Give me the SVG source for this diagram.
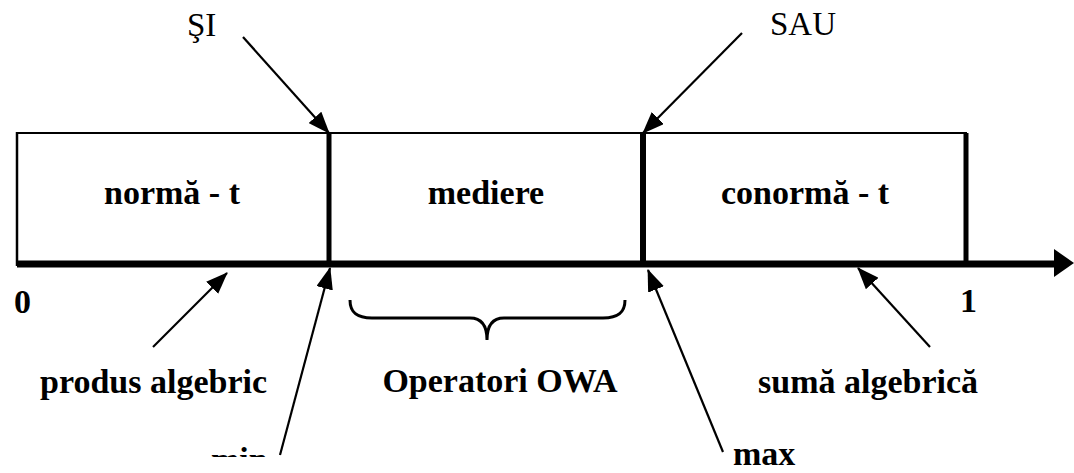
<svg xmlns="http://www.w3.org/2000/svg" width="1074" height="473" viewBox="0 0 1074 473">
  <style>
    .lbl { font-family: "Liberation Serif", "Times New Roman", serif; font-size: 34px; font-weight: bold; fill: #000; }
    .top { font-family: "Liberation Serif", "Times New Roman", serif; font-size: 33px; fill: #000; }
    .ptr { stroke: #000; stroke-width: 2.2; fill: none; marker-end: url(#head); }
    .edge { stroke: #000; fill: none; }
  </style>
  <defs>
    <marker id="head" viewBox="0 0 22 17" refX="21" refY="8.5" markerWidth="22" markerHeight="17" markerUnits="userSpaceOnUse" orient="auto">
      <path d="M0,0 L22,8.5 L0,17 Z" fill="#000"/>
    </marker>
    <clipPath id="cutBottom">
      <rect x="0" y="0" width="1074" height="457"/>
    </clipPath>
  </defs>

  <!-- interval bar [0,1] split into three zones -->
  <g id="bar">
    <line class="edge" x1="17" y1="133" x2="967" y2="133" stroke-width="2"/>
    <line class="edge" x1="17" y1="132" x2="17" y2="266" stroke-width="2.5"/>
    <line class="edge" x1="966" y1="133" x2="966" y2="266" stroke-width="5"/>
  </g>

  <g id="zone-tnorm">
    <text class="lbl" x="172" y="204" text-anchor="middle">normă - t</text>
  </g>
  <g id="zone-mediere">
    <line class="edge" x1="329" y1="133" x2="329" y2="266" stroke-width="5"/>
    <text class="lbl" x="486" y="204" text-anchor="middle">mediere</text>
  </g>
  <g id="zone-conorm">
    <line class="edge" x1="643" y1="133" x2="643" y2="266" stroke-width="6"/>
    <text class="lbl" x="805" y="204" text-anchor="middle">conormă - t</text>
  </g>

  <!-- horizontal axis -->
  <g id="axis">
    <line class="edge" x1="17" y1="264" x2="1056" y2="264" stroke-width="7"/>
    <path d="M1054,249 L1074,263 L1054,277 Z" fill="#000"/>
    <text class="lbl" x="14" y="313">0</text>
    <text class="lbl" x="960" y="312">1</text>
  </g>

  <g id="label-si">
    <text class="top" x="187" y="36">ŞI</text>
  </g>
  <g id="label-sau">
    <text class="top" x="770" y="35">SAU</text>
  </g>
  <g id="label-produs">
    <text class="lbl" x="40" y="393">produs algebric</text>
  </g>
  <g id="label-owa">
    <path d="M350,300 C350,312 356,318 372,318 L470,318 C482,318 487,326 487,340 C487,326 492,318 504,318 L603,318 C619,318 625,312 625,300" stroke="#000" stroke-width="3" fill="none"/>
    <text class="lbl" x="500" y="392" text-anchor="middle">Operatori OWA</text>
  </g>
  <g id="label-suma">
    <text class="lbl" x="758" y="393">sumă algebrică</text>
  </g>
  <!-- lower label runs off the bottom of the sheet; only its top edge is printed -->
  <g id="label-min" clip-path="url(#cutBottom)">
    <text class="lbl" x="211" y="471">min</text>
  </g>
  <g id="label-max">
    <text class="lbl" x="733" y="465">max</text>
  </g>

  <!-- pointer arrows -->
  <g id="connectors">
    <line class="ptr" x1="243" y1="37" x2="329" y2="133"/>
    <line class="ptr" x1="742" y1="33" x2="643" y2="133"/>
    <line class="ptr" x1="153" y1="347" x2="227" y2="273"/>
    <line class="ptr" x1="280" y1="455" x2="330" y2="268"/>
    <line class="ptr" x1="723" y1="452" x2="648" y2="270"/>
    <line class="ptr" x1="930" y1="347" x2="858" y2="268"/>
  </g>
</svg>
